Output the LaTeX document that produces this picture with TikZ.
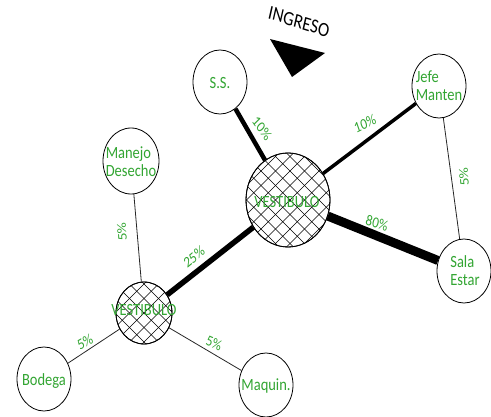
\documentclass[tikz,border=0pt]{standalone}
\usepackage{fontspec}
\setmainfont{Carlito}
\usetikzlibrary{shapes.geometric}
\definecolor{lblgreen}{RGB}{50,165,50}
\newcommand{\stx}[1]{\scalebox{1}[1.18]{#1}}
\newcommand{\rlab}[2]{\scalebox{1}[1.18]{\rotatebox{#1}{#2}}}
\newcommand{\twol}[2]{\stx{\begin{tabular}{@{}l@{}}#1\\#2\end{tabular}}}
\begin{document}
\begin{tikzpicture}[x=1pt,y=-1pt,
  room/.style={ellipse,draw=black,line width=0.8pt,fill=white,inner sep=0pt,
    minimum width=54pt,minimum height=64pt},
  txt/.style={text=lblgreen,font=\fontsize{14.5}{15.5}\selectfont,inner sep=0pt},
  pct/.style={text=lblgreen,font=\fontsize{13}{14}\selectfont,inner sep=0pt},
  thinedge/.style={line width=0.8pt,draw=black!85},
  hatchline/.style={line width=0.5pt,draw=black}
]
\useasboundingbox (0,0) rectangle (491,417);

% rooms
\node[room] (ss) at (220,82) {};
\node[room] (jefe) at (439,86) {};
\node[room] (sala) at (464,271) {};
\node[room,minimum width=84pt,minimum height=94pt] (vbig) at (288,200) {};
\node[room,minimum width=56pt,minimum height=66pt] (manejo) at (131,161) {};
\node[room,minimum width=56pt,minimum height=62pt] (vsmall) at (144,313) {};
\node[room] (bodega) at (44,379) {};
\node[room] (maquin) at (266,385) {};

% hatching
\begin{scope}
  \clip (288,200) ellipse [x radius=42pt, y radius=47pt];
  \foreach \k in {-8,...,8} {
    \draw[hatchline] ({290+\k*14.5-70},{200-70}) -- ({290+\k*14.5+70},{200+70});
    \draw[hatchline] ({290+\k*14.5+70},{200-70}) -- ({290+\k*14.5-70},{200+70});
  }
\end{scope}
\begin{scope}
  \clip (144,313) ellipse [x radius=28pt, y radius=31pt];
  \foreach \k in {-6,...,6} {
    \draw[hatchline] ({144+\k*14.5-50},{313-50}) -- ({144+\k*14.5+50},{313+50});
    \draw[hatchline] ({144+\k*14.5+50},{313-50}) -- ({144+\k*14.5-50},{313+50});
  }
\end{scope}
\draw[line width=0.8pt] (vbig.center) ellipse [x radius=42pt, y radius=47pt];
\draw[line width=0.8pt] (vsmall.center) ellipse [x radius=28pt, y radius=31pt];

% connectors
\draw[line width=4.5pt] (ss) -- (vbig);
\draw[line width=3.5pt] (vbig) -- (jefe);
\draw[line width=9pt] (vbig) -- (sala);
\draw[line width=5.5pt] (vbig) -- (vsmall);
\draw[thinedge] (jefe) -- (sala);
\draw[thinedge] (manejo) -- (vsmall);
\draw[thinedge] (vsmall) -- (bodega);
\draw[thinedge] (vsmall) -- (maquin);

% room texts
\node[txt] (ssT) at (220,83) {\stx{S.S.}};
\node[txt] (jefeT) at (439,88) {\twol{Jefe}{Manten}};
\node[txt] (salaT) at (465,273) {\twol{Sala}{Estar}};
\node[txt] (vbigT) at (287,202) {\stx{VESTIBULO}};
\node[txt] (manejoT) at (131,164) {\twol{Manejo}{Desecho}};
\node[txt] (vsmallT) at (144,310) {\stx{VESTIBULO}};
\node[txt] (bodegaT) at (44,381) {\stx{Bodega}};
\node[txt] (maquinT) at (266,386) {\stx{Maquin.}};

% percentages
\node[pct] (p1) at (262,128) {\rlab{-50}{10\%}};
\node[pct] (p2) at (365,124) {\rlab{22}{10\%}};
\node[pct] (p3) at (464,177) {\rlab{94}{5\%}};
\node[pct] (p4) at (377,223) {\rlab{-17}{80\%}};
\node[pct] (p5) at (194,257) {\rlab{35}{25\%}};
\node[pct] (p6) at (122,232) {\rlab{94}{5\%}};
\node[pct] (p7) at (85,342) {\rlab{26}{5\%}};
\node[pct] (p8) at (214,343) {\rlab{-21}{5\%}};

% entrance
\node[font=\fontsize{17}{18}\selectfont,inner sep=0pt] (ingreso) at (299,22) {\rlab{-15}{INGRESO}};
\fill (270,39) -- (325,53) -- (292,77) -- cycle;
\end{tikzpicture}
\end{document}
